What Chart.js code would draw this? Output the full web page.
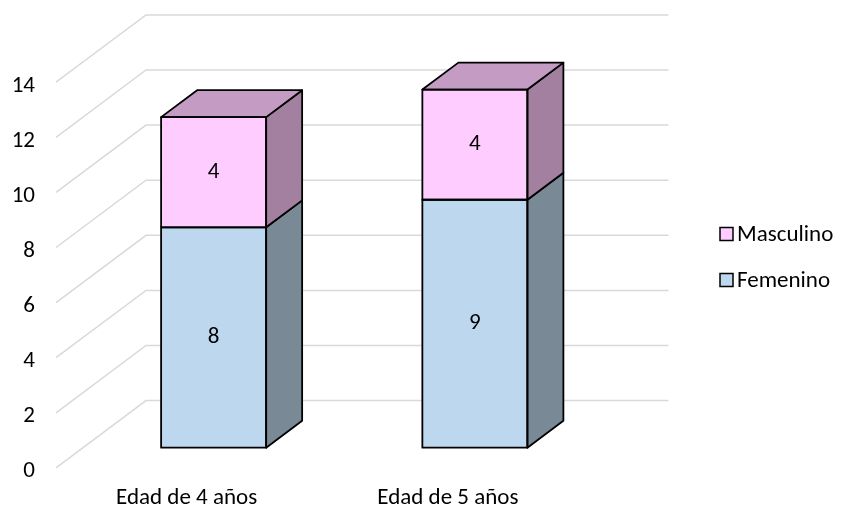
<!DOCTYPE html>
<html>
<head>
<meta charset="utf-8">
<script src="https://cdn.jsdelivr.net/npm/chart.js@4/dist/chart.umd.min.js"></script>
<style>
  html, body { margin: 0; background: #fff; }
  #marco { width: 841px; height: 510px; }
</style>
</head>
<body>
<div id="marco"><canvas id="grafico"></canvas></div>
<script>
const categorias = ['Edad de 4 años', 'Edad de 5 años'];
const femenino = [8, 9];
const masculino = [4, 4];
const marcasY = [0, 2, 4, 6, 8, 10, 12, 14];

const FUENTE = 'Calibri, Carlito, Lato, sans-serif';
const TAM = 23;

// Profundidad total del suelo (px). Las columnas ocupan del 30% al 70%.
const PROF = { dx: 90, dy: -67.3 };
const FRENTE = -0.3, FONDO = 0.7, GROSOR = 0.4;

const caras = {
  Femenino: { lado: '#7a8996', tapa: '#8fa3b5' },
  Masculino: { lado: '#a3809f', tapa: '#c39bc3' },
};

// Paredes: rejilla en el fondo y diagonales en el lateral izquierdo.
const paredes = {
  id: 'paredes',
  beforeDatasetsDraw(chart) {
    const { ctx, chartArea: a, scales: { y } } = chart;
    const fx = FRENTE * PROF.dx, fy = FRENTE * PROF.dy;
    const bx = FONDO * PROF.dx, by = FONDO * PROF.dy;
    ctx.save();
    ctx.strokeStyle = '#d9d9d9';
    ctx.lineWidth = 1.5;
    marcasY.forEach((v) => {
      const p = y.getPixelForValue(v);
      ctx.beginPath();
      ctx.moveTo(a.left + fx, p + fy);
      ctx.lineTo(a.left + bx, p + by);
      ctx.lineTo(a.right + bx, p + by);
      ctx.stroke();
    });
    ctx.restore();
  },
};

// Caras laterales y superiores de las columnas, contorno frontal y etiquetas de valor.
const columnas3d = {
  id: 'columnas3d',
  afterDatasetsDraw(chart) {
    const { ctx } = chart;
    const ddx = GROSOR * PROF.dx, ddy = GROSOR * PROF.dy;
    const ultimo = chart.data.datasets.length - 1;
    ctx.save();
    ctx.lineWidth = 1.8;
    ctx.strokeStyle = '#000';
    ctx.lineJoin = 'round';
    chart.data.datasets.forEach((ds, i) => {
      const meta = chart.getDatasetMeta(i);
      meta.data.forEach((el) => {
        const { x, y, base, width } = el.getProps(['x', 'y', 'base', 'width'], true);
        const izq = x - width / 2, der = x + width / 2;
        const arriba = Math.min(y, base), abajo = Math.max(y, base);
        ctx.fillStyle = caras[ds.label].lado;
        ctx.beginPath();
        ctx.moveTo(der, arriba);
        ctx.lineTo(der + ddx, arriba + ddy);
        ctx.lineTo(der + ddx, abajo + ddy);
        ctx.lineTo(der, abajo);
        ctx.closePath();
        ctx.fill();
        ctx.stroke();
        if (i === ultimo) {
          ctx.fillStyle = caras[ds.label].tapa;
          ctx.beginPath();
          ctx.moveTo(izq, arriba);
          ctx.lineTo(izq + ddx, arriba + ddy);
          ctx.lineTo(der + ddx, arriba + ddy);
          ctx.lineTo(der, arriba);
          ctx.closePath();
          ctx.fill();
          ctx.stroke();
        }
        ctx.strokeRect(izq, arriba, der - izq, abajo - arriba);
      });
    });
    ctx.font = `${TAM}px ${FUENTE}`;
    ctx.fillStyle = '#000';
    ctx.textAlign = 'center';
    ctx.textBaseline = 'middle';
    chart.data.datasets.forEach((ds, i) => {
      chart.getDatasetMeta(i).data.forEach((el, j) => {
        const { x, y, base } = el.getProps(['x', 'y', 'base'], true);
        ctx.fillText(String(ds.data[j]), x, (y + base) / 2);
      });
    });
    ctx.restore();
  },
};

// Leyenda a la derecha, en orden inverso al apilado.
const leyenda = {
  id: 'leyenda',
  afterDraw(chart) {
    const { ctx } = chart;
    const items = chart.data.datasets.slice().reverse();
    ctx.save();
    ctx.font = `${TAM}px ${FUENTE}`;
    ctx.textBaseline = 'middle';
    ctx.textAlign = 'left';
    items.forEach((ds, k) => {
      const cy = 234 + k * 46;
      ctx.fillStyle = ds.backgroundColor;
      ctx.fillRect(720, cy - 6.5, 13, 13);
      ctx.lineWidth = 1.5;
      ctx.strokeStyle = '#000';
      ctx.strokeRect(720, cy - 6.5, 13, 13);
      ctx.fillStyle = '#000';
      ctx.fillText(ds.label, 737, cy + 1);
    });
    ctx.restore();
  },
};

new Chart(document.getElementById('grafico'), {
  type: 'bar',
  data: {
    labels: categorias,
    datasets: [
      { label: 'Femenino', data: femenino, backgroundColor: '#bdd7ee', borderWidth: 0 },
      { label: 'Masculino', data: masculino, backgroundColor: '#ffccff', borderWidth: 0 },
    ],
  },
  plugins: [paredes, columnas3d, leyenda],
  options: {
    responsive: true,
    maintainAspectRatio: false,
    animation: false,
    layout: { padding: { left: 0, top: 62, right: 235.5, bottom: 0 } },
    categoryPercentage: 1,
    barPercentage: 0.402,
    plugins: { legend: { display: false }, tooltip: { enabled: false } },
    scales: {
      x: {
        stacked: true,
        grid: { display: false, drawTicks: false },
        border: { display: false },
        ticks: {
          color: '#000',
          font: { family: FUENTE, size: TAM },
          padding: 37,
          labelOffset: -27,
          maxRotation: 0,
          autoSkip: false,
        },
        afterFit: (s) => { s.height = 62.3; },
      },
      y: {
        stacked: true,
        min: 0,
        max: 14,
        afterBuildTicks: (s) => { s.ticks = marcasY.map((v) => ({ value: v })); },
        grid: { display: false, drawTicks: false },
        border: { display: false },
        ticks: {
          color: '#000',
          font: { family: FUENTE, size: TAM },
          padding: 48,
          labelOffset: 24,
        },
        afterFit: (s) => { s.width = 83; },
      },
    },
  },
});
</script>
</body>
</html>
